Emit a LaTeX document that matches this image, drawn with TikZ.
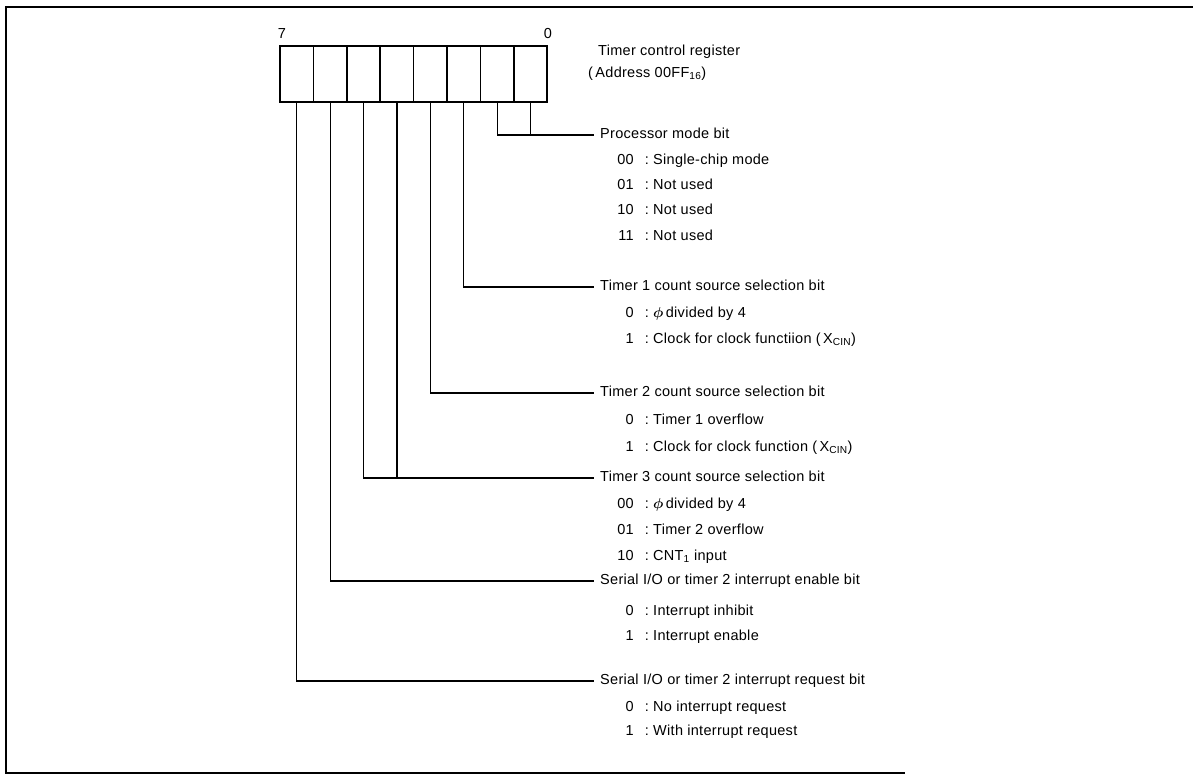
\documentclass[tikz,border=0pt]{standalone}
\usepackage{fontspec}
\setmainfont{Liberation Sans}[LetterSpace=2]
\newcommand{\myphi}{\raisebox{0pt}{$\boldsymbol{\phi}$}}
\usepackage{amsmath,amsbsy}
\begin{document}
\begin{tikzpicture}[x=1pt,y=-1pt,
  every node/.style={inner sep=0pt, font=\fontsize{14.5}{16}\selectfont},
  frame/.style={line width=1.8pt},
  cell/.style={draw, line width=1.6pt, minimum width=33.4pt, minimum height=56pt},
  wire/.style={line width=1.2pt},
  head/.style={anchor=west, text height=10.5pt, text depth=3pt},
  code/.style={anchor=base east},
  colon/.style={anchor=base},
  desc/.style={anchor=base west}]
\useasboundingbox (0,0) rectangle (1193,775);
% outer frame
\draw[frame] (1193,7) -- (6,7) -- (6,773) -- (905,773);
% register cells
\node[cell] (b7) at (296.7,74) {};
\node[cell] (b6) at (330.1,74) {};
\node[cell] (b5) at (363.5,74) {};
\node[cell] (b4) at (396.9,74) {};
\node[cell] (b3) at (430.3,74) {};
\node[cell] (b2) at (463.7,74) {};
\node[cell] (b1) at (497.1,74) {};
\node[cell] (b0) at (530.5,74) {};
\node (n7) at (282,34) {7};
\node (n0) at (548,34) {0};
\node[anchor=west] (title) at (598,52) {Timer control register};
\node[anchor=west] (addr) at (588,74) {(\,Address 00FF\textsubscript{16})};
% headings
\node[head] (pm) at (600,135) {Processor mode bit};
\node[head] (t1) at (600,287) {Timer 1 count source selection bit};
\node[head] (t2) at (600,393) {Timer 2 count source selection bit};
\node[head] (t3) at (600,478) {Timer 3 count source selection bit};
\node[head] (se) at (600,581) {Serial I/O or timer 2 interrupt enable bit};
\node[head] (sr) at (600,681) {Serial I/O or timer 2 interrupt request bit};
% items
\node[code] (pc1) at (634,165) {00}; \node[colon] (pk1) at (647,165) {:}; \node[desc] (pd1) at (653,165) {Single-chip mode};
\node[code] (pc2) at (634,190) {01}; \node[colon] (pk2) at (647,190) {:}; \node[desc] (pd2) at (653,190) {Not used};
\node[code] (pc3) at (634,215) {10}; \node[colon] (pk3) at (647,215) {:}; \node[desc] (pd3) at (653,215) {Not used};
\node[code] (pc4) at (634,241) {11}; \node[colon] (pk4) at (647,241) {:}; \node[desc] (pd4) at (653,241) {Not used};
\node[code] (ac1) at (634,317) {0}; \node[colon] (ak1) at (647,317) {:}; \node[desc] (ad1) at (653,317) {\myphi\,divided by 4};
\node[code] (ac2) at (634,343) {1}; \node[colon] (ak2) at (647,343) {:}; \node[desc] (ad2) at (653,343) {Clock for clock functiion (\,X\textsubscript{CIN})};
\node[code] (bc1) at (634,424) {0}; \node[colon] (bk1) at (647,424) {:}; \node[desc] (bd1) at (653,424) {Timer 1 overflow};
\node[code] (bc2) at (634,451) {1}; \node[colon] (bk2) at (647,451) {:}; \node[desc] (bd2) at (653,451) {Clock for clock function (\,X\textsubscript{CIN})};
\node[code] (cc1) at (634,508) {00}; \node[colon] (ck1) at (647,508) {:}; \node[desc] (cd1) at (653,508) {\myphi\,divided by 4};
\node[code] (cc2) at (634,534) {01}; \node[colon] (ck2) at (647,534) {:}; \node[desc] (cd2) at (653,534) {Timer 2 overflow};
\node[code] (cc3) at (634,560) {10}; \node[colon] (ck3) at (647,560) {:}; \node[desc] (cd3) at (653,560) {CNT\textsubscript{1} input};
\node[code] (dc1) at (634,615) {0}; \node[colon] (dk1) at (647,615) {:}; \node[desc] (dd1) at (653,615) {Interrupt inhibit};
\node[code] (dc2) at (634,640) {1}; \node[colon] (dk2) at (647,640) {:}; \node[desc] (dd2) at (653,640) {Interrupt enable};
\node[code] (ec1) at (634,711) {0}; \node[colon] (ek1) at (647,711) {:}; \node[desc] (ed1) at (653,711) {No interrupt request};
\node[code] (ec2) at (634,735) {1}; \node[colon] (ek2) at (647,735) {:}; \node[desc] (ed2) at (653,735) {With interrupt request};
% connectors
\draw[wire] (b1.south) |- ([xshift=-6pt]pm.west);
\draw[wire] (b0.south) -- (b0.south |- pm.west);
\draw[wire] (b2.south) |- ([xshift=-6pt]t1.west);
\draw[wire] (b3.south) |- ([xshift=-6pt]t2.west);
\draw[wire] (b5.south) |- ([xshift=-6pt]t3.west);
\draw[wire] (b4.south) -- (b4.south |- t3.west);
\draw[wire] (b6.south) |- ([xshift=-6pt]se.west);
\draw[wire] (b7.south) |- ([xshift=-6pt]sr.west);
\end{tikzpicture}
\end{document}
